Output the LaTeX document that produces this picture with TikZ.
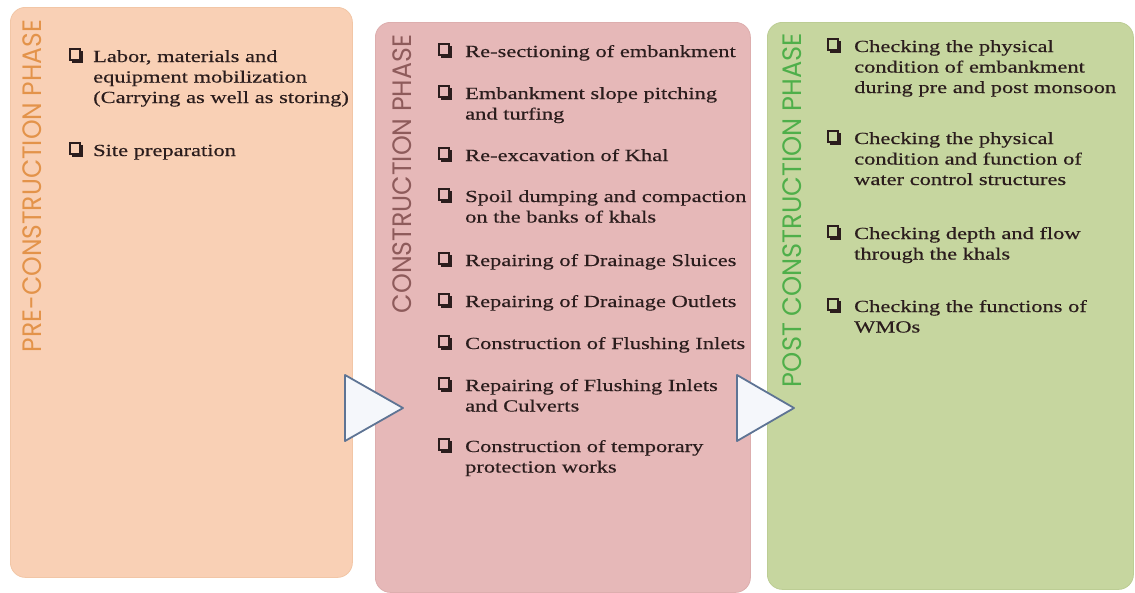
\documentclass[tikz,border=0pt]{standalone}
\usepackage{fontspec}
\usepackage{graphicx}
\usetikzlibrary{calc}
\newfontfamily\bodyfont[FakeStretch=1.32,FakeBold=0.4]{Liberation Serif}
\newfontfamily\labelfont{Poppins}
\definecolor{preFill}{HTML}{F9D0B5}
\definecolor{preEdge}{HTML}{F2C6A6}
\definecolor{conFill}{HTML}{E6B8B8}
\definecolor{conEdge}{HTML}{DDAEAE}
\definecolor{postFill}{HTML}{C6D69F}
\definecolor{postEdge}{HTML}{BCCD94}
\definecolor{preLab}{HTML}{E3934A}
\definecolor{conLab}{HTML}{8E5B5B}
\definecolor{postLab}{HTML}{4FAF4A}
\definecolor{txtcol}{HTML}{2B1D1D}
\definecolor{triEdge}{HTML}{5E7494}
\definecolor{triFill}{HTML}{F5F7FB}
\tikzset{
  phasebox/.style={draw, line width=0.8pt, rounded corners=15pt, anchor=north west, inner sep=0pt},
  itemtext/.style={anchor=base west, inner sep=0pt, text width=300pt, align=left,
    font=\bodyfont\fontsize{17pt}{20.5pt}\selectfont, text=txtcol},
  phaselabel/.style={inner sep=0pt, anchor=center},
  tri/.style={draw=triEdge, fill=triFill, line width=1.8pt, line join=round},
  chk/.pic={
    \draw[draw=txtcol, line width=1.6pt] (0.8,0.8) rectangle (11.2,12.2);
    \fill[txtcol] (2.6,12.2) rectangle (14,15);
    \fill[txtcol] (11.2,2.6) rectangle (14,15);
  }
}
\newcommand{\chkitem}[5]{%
  \node[itemtext] (#1) at (#2,#3) {#5};
  \pic at ($(#1.base west)+(-#4,-14)$) {chk};
}
\begin{document}
\begin{tikzpicture}[x=1pt,y=-1pt]
\path[use as bounding box, fill=white] (0,0) rectangle (1135,592);

% boxes
\node[phasebox, draw=preEdge, fill=preFill, minimum width=342pt, minimum height=570pt] (b1) at (10,7) {};
\node[phasebox, draw=conEdge, fill=conFill, minimum width=375pt, minimum height=570pt] (b2) at (375,22) {};
\node[phasebox, draw=postEdge, fill=postFill, minimum width=366pt, minimum height=567pt] (b3) at (767,22) {};

% vertical labels
\node[phaselabel, text=preLab] (l1) at (32,186) {\resizebox{19pt}{332pt}{\rotatebox{90}{\labelfont PRE-CONSTRUCTION PHASE}}};
\node[phaselabel, text=conLab] (l2) at (402,174) {\resizebox{19pt}{278pt}{\rotatebox{90}{\labelfont CONSTRUCTION PHASE}}};
\node[phaselabel, text=postLab] (l3) at (792,210) {\resizebox{19pt}{354pt}{\rotatebox{90}{\labelfont POST CONSTRUCTION PHASE}}};

% pre-construction items
\chkitem{p1}{93}{62}{24}{Labor, materials and\\equipment mobilization\\(Carrying as well as storing)}
\chkitem{p2}{93}{156}{24}{Site preparation}

% construction items
\chkitem{c1}{465}{57}{27}{Re-sectioning of embankment}
\chkitem{c2}{465}{99}{27}{Embankment slope pitching\\and turfing}
\chkitem{c3}{465}{161}{27}{Re-excavation of Khal}
\chkitem{c4}{465}{202}{27}{Spoil dumping and compaction\\on the banks of khals}
\chkitem{c5}{465}{266}{27}{Repairing of Drainage Sluices}
\chkitem{c6}{465}{307}{27}{Repairing of Drainage Outlets}
\chkitem{c7}{465}{349}{27}{Construction of Flushing Inlets}
\chkitem{c8}{465}{391}{27}{Repairing of Flushing Inlets\\and Culverts}
\chkitem{c9}{465}{452}{27}{Construction of temporary\\protection works}

% post-construction items
\chkitem{q1}{854}{52}{27}{Checking the physical\\condition of embankment\\during pre and post monsoon}
\chkitem{q2}{854}{144}{27}{Checking the physical\\condition and function of\\water control structures}
\chkitem{q3}{854}{239}{27}{Checking depth and flow\\through the khals}
\chkitem{q4}{854}{312}{27}{Checking the functions of\\WMOs}

% arrows between phases
\coordinate (t1a) at (345,375); \coordinate (t1b) at (403,408); \coordinate (t1c) at (345,441);
\coordinate (t2a) at (737,375); \coordinate (t2b) at (794,408); \coordinate (t2c) at (737,441);
\draw[tri] (t1a) -- (t1b) -- (t1c) -- cycle;
\draw[tri] (t2a) -- (t2b) -- (t2c) -- cycle;
\end{tikzpicture}
\end{document}
